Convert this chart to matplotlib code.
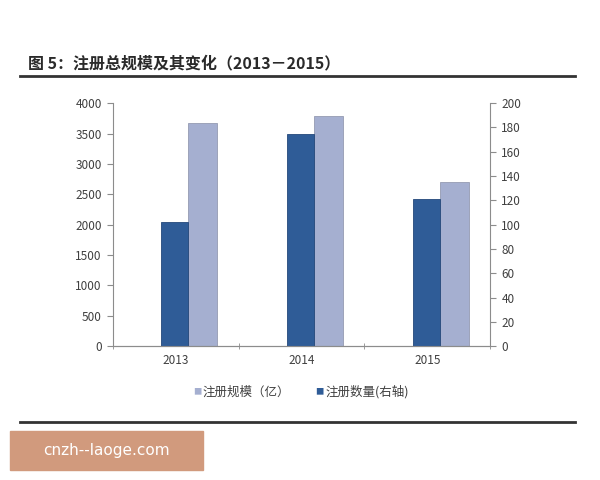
import matplotlib.pyplot as plt
import numpy as np
from matplotlib.patches import Rectangle

plt.rcParams['font.family'] = ['Noto Sans CJK SC', 'DejaVu Sans']

years = ['2013', '2014', '2015']
scale_yi = [3680, 3790, 2700]      # 注册规模（亿）, left axis
count = [102, 175, 121]            # 注册数量, right axis

dark = '#2f5c97'
light = '#a5afd0'
grey = '#8c8c8c'

fig = plt.figure(figsize=(6, 4.8), dpi=100)
ax = fig.add_axes([0.188, 0.279, 0.629, 0.506])
ax2 = ax.twinx()

x = np.arange(len(years))
w = 0.22
# bars sit a little right of the category centre, as in the original
ax.bar(x + 0.1, scale_yi, 0.23, align='edge', color=light, edgecolor='#959bb2',
       linewidth=0.6, zorder=2)
ax2.bar(x + 0.1, count, -0.215, align='edge', color=dark, edgecolor='#24487a',
        linewidth=0.6, zorder=2)

ax.set_xlim(-0.5, 2.5)
ax.set_ylim(0, 4000)
ax.set_yticks(range(0, 4001, 500))
ax2.set_ylim(0, 200)
ax2.set_yticks(range(0, 201, 20))
ax.set_xticks(x)
ax.set_xticklabels(years)
ax.set_xticks([-0.5, 0.5, 1.5, 2.5], minor=True)
ax.tick_params(axis='x', which='major', length=0, pad=6)
ax.tick_params(axis='x', which='minor', length=4, color=grey, direction='inout')

for a in (ax, ax2):
    a.spines['top'].set_visible(False)
    for s in ('left', 'right', 'bottom'):
        a.spines[s].set_color(grey)
        a.spines[s].set_linewidth(0.8)
    a.tick_params(axis='y', labelsize=8.5, colors='#404040', length=4, pad=4)
    a.tick_params(axis='y', color=grey)
ax.tick_params(axis='x', labelsize=8.5, labelcolor='#404040')
ax2.spines['left'].set_visible(False)
ax.spines['right'].set_visible(False)

# title and rules
fig.text(0.047, 0.868, '图 5：注册总规模及其变化（2013－2015）', fontsize=11.5,
         fontweight='bold', color='#2a2a2a', va='center')
fig.add_artist(plt.Line2D([0.033, 0.958], [0.841, 0.841], color='#333333', lw=2))
fig.add_artist(plt.Line2D([0.033, 0.958], [0.121, 0.121], color='#333333', lw=2))

# legend
fig.text(0.322, 0.183, '■', color=light, fontsize=6, va='center')
fig.text(0.338, 0.183, '注册规模（亿）', color='#404040', fontsize=9, va='center')
fig.text(0.526, 0.183, '■', color=dark, fontsize=6, va='center')
fig.text(0.542, 0.183, '注册数量(右轴)', color='#404040', fontsize=9, va='center')

# watermark box
fig.add_artist(Rectangle((0.017, 0.021), 0.322, 0.081, transform=fig.transFigure,
                         color='#d19a7d', zorder=1))
fig.text(0.178, 0.062, 'cnzh--laoge.com', color='white', fontsize=11,
         ha='center', va='center', family='DejaVu Sans')

fig.savefig('out.png', dpi=100)
